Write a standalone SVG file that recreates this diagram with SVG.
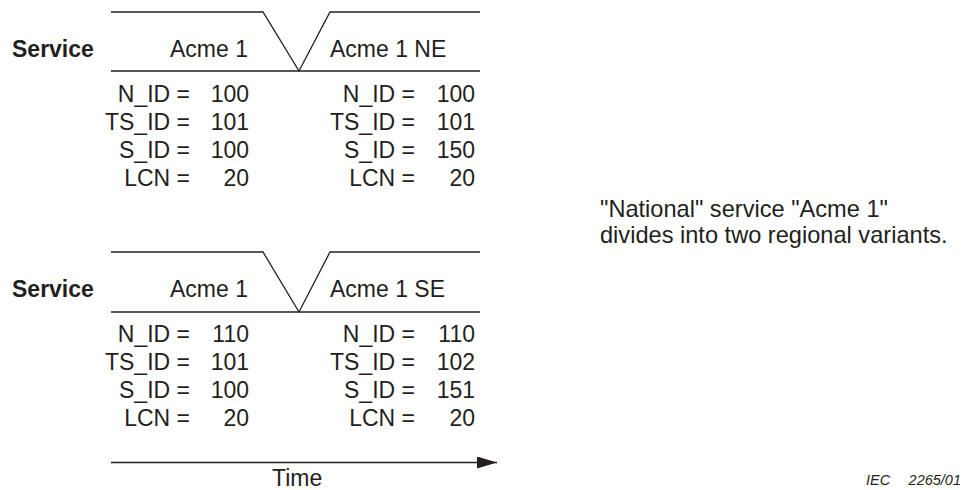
<svg xmlns="http://www.w3.org/2000/svg" width="963" height="490" viewBox="0 0 963 490">
<defs>
<style>
text{font-family:"Liberation Sans",Arial,sans-serif;fill:#231f20;font-size:23px}
.b{font-weight:bold;font-size:23px}
.n{font-size:23.6px}
.r{text-anchor:end}
.i{font-style:italic;font-size:14.5px}
.ln{stroke:#231f20;stroke-width:1.3;fill:none}
</style>
<marker id="ah" viewBox="0 0 20 12" refX="20" refY="6" markerWidth="20" markerHeight="12" markerUnits="userSpaceOnUse" orient="auto">
<path d="M0,0 L20,6 L0,12 Z" fill="#231f20"/>
</marker>
</defs>
<g id="connectors">
<path class="ln" d="M111,12 H263 L299,71 L330,12 H480 M111,71 H480"/>
<path class="ln" d="M111,252 H263 L299,312 L330,252 H480 M111,312 H480"/>
<line class="ln" x1="111" y1="462.5" x2="497" y2="462.5" marker-end="url(#ah)"/>
</g>
<g id="top">
<text class="b" x="12" y="57">Service</text>
<text x="170" y="57">Acme 1</text>
<text x="330" y="57">Acme 1 NE</text>
<text class="r" x="190" y="101.5">N_ID =</text><text class="r" x="249" y="101.5">100</text>
<text class="r" x="190" y="129.5">TS_ID =</text><text class="r" x="249" y="129.5">101</text>
<text class="r" x="190" y="157.5">S_ID =</text><text class="r" x="249" y="157.5">100</text>
<text class="r" x="190" y="185.5">LCN =</text><text class="r" x="249" y="185.5">20</text>
<text class="r" x="415" y="101.5">N_ID =</text><text class="r" x="475" y="101.5">100</text>
<text class="r" x="415" y="129.5">TS_ID =</text><text class="r" x="475" y="129.5">101</text>
<text class="r" x="415" y="157.5">S_ID =</text><text class="r" x="475" y="157.5">150</text>
<text class="r" x="415" y="185.5">LCN =</text><text class="r" x="475" y="185.5">20</text>
</g>
<g id="bottom">
<text class="b" x="12" y="297">Service</text>
<text x="170" y="297">Acme 1</text>
<text x="330" y="297">Acme 1 SE</text>
<text class="r" x="190" y="342">N_ID =</text><text class="r" x="249" y="342">110</text>
<text class="r" x="190" y="370">TS_ID =</text><text class="r" x="249" y="370">101</text>
<text class="r" x="190" y="398">S_ID =</text><text class="r" x="249" y="398">100</text>
<text class="r" x="190" y="426">LCN =</text><text class="r" x="249" y="426">20</text>
<text class="r" x="415" y="342">N_ID =</text><text class="r" x="475" y="342">110</text>
<text class="r" x="415" y="370">TS_ID =</text><text class="r" x="475" y="370">102</text>
<text class="r" x="415" y="398">S_ID =</text><text class="r" x="475" y="398">151</text>
<text class="r" x="415" y="426">LCN =</text><text class="r" x="475" y="426">20</text>
</g>
<g id="time"><text x="272" y="486">Time</text></g>
<g id="note">
<text class="n" x="600" y="217">"National" service "Acme 1"</text>
<text class="n" x="600" y="243">divides into two regional variants.</text>
</g>
<g id="ref"><text class="i" x="866" y="485">IEC</text><text class="i r" x="961" y="485">2265/01</text></g>
</svg>
